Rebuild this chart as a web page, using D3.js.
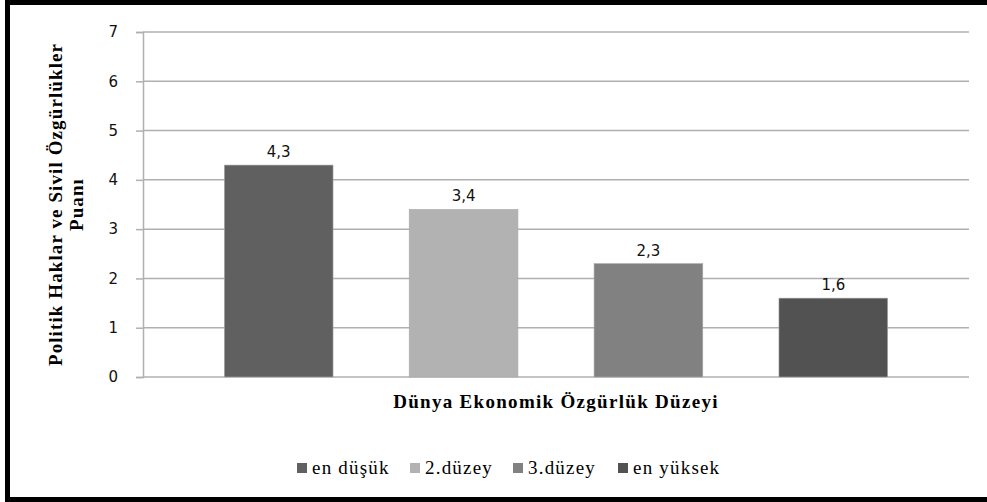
<!DOCTYPE html>
<html>
<head>
<meta charset="utf-8">
<script src="https://cdn.jsdelivr.net/npm/d3@7"></script>
<style>
  body { margin: 0; background: #fff; }
  svg { display: block; }
  .serif { font-family: "Liberation Serif", "Times New Roman", serif; }
</style>
</head>
<body>
<div id="chart"></div>
<script>
// chart data
var seriesNames = ["en düşük", "2.düzey", "3.düzey", "en yüksek"];
var seriesValues = [4.3, 3.4, 2.3, 1.6];
var seriesColors = ["#606060", "#b2b2b2", "#818181", "#525252"];
var yTicks = [0, 1, 2, 3, 4, 5, 6, 7];
var xTitle = "Dünya Ekonomik Özgürlük Düzeyi";
var yTitle = ["Politik Haklar ve Sivil Özgürlükler", "Puanı"];

var W = 987, H = 502;
var plot = {left: 143, right: 969, top: 32, bottom: 377};

var svg = d3.select("#chart")
    .append("svg")
    .attr("width", W)
    .attr("height", H);

svg.append("rect")
    .attr("width", W).attr("height", H)
    .attr("fill", "#fff");

// thick frame (right side falls off the picture)
svg.append("rect")
    .attr("x", 7.5).attr("y", 2.5)
    .attr("width", 990).attr("height", 497)
    .attr("fill", "none")
    .attr("stroke", "#000")
    .attr("stroke-width", 5);

var y = d3.scaleLinear()
    .domain([0, 7])
    .range([plot.bottom, plot.top]);

var x = d3.scaleBand()
    .domain(seriesNames)
    .range([plot.left, plot.right])
    .paddingInner(0.412)
    .paddingOuter(0.44);

// gridlines
svg.append("g")
    .selectAll("line")
    .data(yTicks)
    .join("line")
    .attr("x1", plot.left).attr("x2", plot.right)
    .attr("y1", d => y(d)).attr("y2", d => y(d))
    .attr("stroke", "#b0b0b0")
    .attr("stroke-width", 1.5);

// y axis
var yAxis = d3.axisLeft(y)
    .tickValues(yTicks)
    .tickSize(7)
    .tickPadding(18)
    .tickFormat(d3.format("d"));

var gy = svg.append("g")
    .attr("transform", "translate(" + plot.left + ",0)")
    .call(yAxis);
gy.select(".domain").attr("stroke", "#b0b0b0").attr("stroke-width", 1.5);
gy.selectAll(".tick line").attr("stroke", "#b0b0b0").attr("stroke-width", 1.5);
gy.selectAll(".tick text")
    .attr("fill", "#111")
    .style("font-family", "DejaVu Sans")
    .style("font-size", "15px");

// bars
svg.append("g")
    .selectAll("rect")
    .data(seriesNames)
    .join("rect")
    .attr("x", d => x(d))
    .attr("y", (d, i) => y(seriesValues[i]))
    .attr("width", x.bandwidth())
    .attr("height", (d, i) => y(0) - y(seriesValues[i]))
    .attr("fill", (d, i) => seriesColors[i])
    .attr("stroke", "#a8a8a8")
    .attr("stroke-width", 0.6);

// value labels
svg.append("g")
    .selectAll("text")
    .data(seriesNames)
    .join("text")
    .attr("x", d => x(d) + x.bandwidth() / 2)
    .attr("y", (d, i) => y(seriesValues[i]) - 8)
    .attr("text-anchor", "middle")
    .attr("fill", "#111")
    .style("font-family", "DejaVu Sans")
    .style("font-size", "15px")
    .text((d, i) => String(seriesValues[i]).replace(".", ","));

// axis titles
svg.append("text")
    .attr("class", "serif")
    .attr("x", (plot.left + plot.right) / 2)
    .attr("y", 408)
    .attr("text-anchor", "middle")
    .style("font-weight", "bold")
    .style("font-size", "19px")
    .style("letter-spacing", "1.3px")
    .text(xTitle);

var yMid = (plot.top + plot.bottom) / 2;
svg.append("text")
    .attr("class", "serif")
    .attr("transform", "translate(62," + yMid + ") rotate(-90)")
    .attr("text-anchor", "middle")
    .style("font-weight", "bold")
    .style("font-size", "19px")
    .style("letter-spacing", "1.1px")
    .selectAll("tspan")
    .data(yTitle)
    .join("tspan")
    .attr("x", 0)
    .attr("dy", (d, i) => i === 0 ? 0 : 21)
    .text(d => d);

// legend
var legendX = [297, 410, 513, 618];
var legend = svg.append("g")
    .selectAll("g")
    .data(seriesNames)
    .join("g")
    .attr("transform", (d, i) => "translate(" + legendX[i] + ",463)");
legend.append("rect")
    .attr("width", 10).attr("height", 10)
    .attr("fill", (d, i) => seriesColors[i]);
legend.append("text")
    .attr("class", "serif")
    .attr("x", 15).attr("y", 11)
    .style("font-size", "19px")
    .style("letter-spacing", "1.2px")
    .text(d => d);
</script>
</body>
</html>
